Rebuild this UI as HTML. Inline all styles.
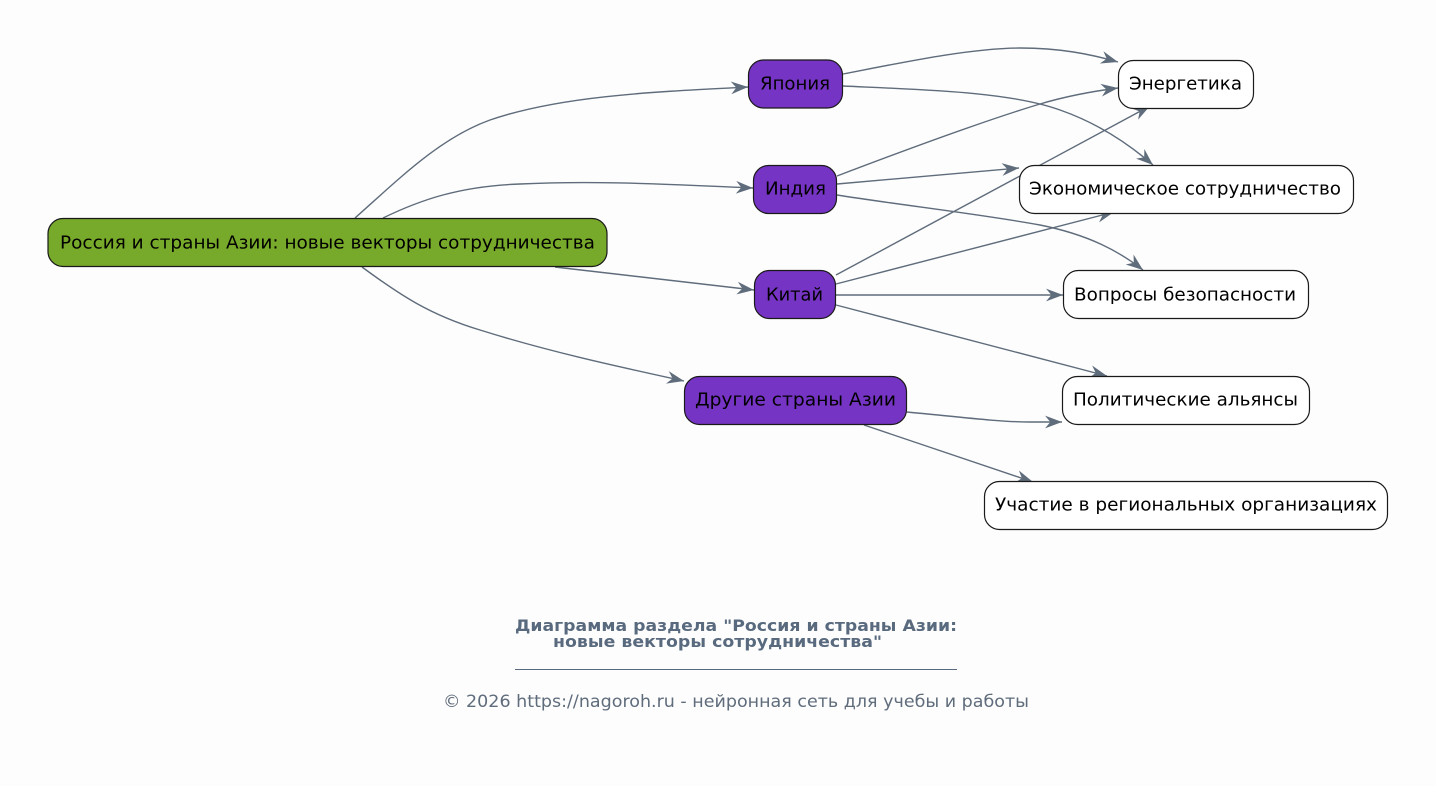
<!DOCTYPE html>
<html><head><meta charset="utf-8"><style>
html,body{margin:0;padding:0;background:#fdfdfd;}
svg{display:block;}
text{font-family:"DejaVu Sans","Liberation Sans",sans-serif;}
</style></head><body>
<svg width="1436" height="786" viewBox="0 0 1436 786" xmlns="http://www.w3.org/2000/svg">
<defs>
<marker id="a" viewBox="0 0 16 12" refX="16" refY="6" markerWidth="17" markerHeight="13" markerUnits="userSpaceOnUse" orient="auto">
<path d="M0,0 L16,6 L0,12 L5,6 Z" fill="#5f6c7b"/>
</marker>
</defs>
<rect width="1436" height="786" fill="#fdfdfd"/>
<g fill="none" stroke="#5f6c7b" stroke-width="1.4" marker-end="url(#a)">
<path d="M355,218 C400,178 440,138 490,120 C560,96 650,92 748,87"/>
<path d="M383,218 C420,200 460,186 520,184 C600,180 680,185 753,188"/>
<path d="M555,267 L754,290"/>
<path d="M362,267 C400,295 430,315 480,330 C550,352 620,367 684,381"/>
<path d="M843,74 C900,63 970,48 1020,48 C1060,48 1090,54 1118,62"/>
<path d="M843,86 C930,90 1010,92 1060,110 C1100,124 1130,145 1153,165"/>
<path d="M837,176 C900,152 980,122 1040,104 C1070,95 1095,91 1118,88"/>
<path d="M837,184 L1019,168"/>
<path d="M837,195 C900,205 980,214 1040,225 C1090,235 1120,252 1143,270"/>
<path d="M836,275 L1150,106"/>
<path d="M836,284 L1114,212"/>
<path d="M836,295 L1063,295"/>
<path d="M836,305 L1107,376"/>
<path d="M907,412 C960,417 1000,422 1030,422 L1062,422"/>
<path d="M864,425 L1033,482"/>
</g>
<g stroke="#1a1a1a" stroke-width="1.2">
<rect x="48" y="218.5" width="559" height="48" rx="15" fill="#77a92a"/>
<rect x="748.5" y="60" width="94" height="48" rx="15" fill="#7634c4"/>
<rect x="753.5" y="165.5" width="83" height="48" rx="15" fill="#7634c4"/>
<rect x="754.5" y="270.5" width="81" height="48" rx="15" fill="#7634c4"/>
<rect x="684.5" y="376.5" width="222" height="48" rx="15" fill="#7634c4"/>
<rect x="1118.5" y="60.5" width="135" height="48" rx="15" fill="#ffffff"/>
<rect x="1019.5" y="165.5" width="334" height="48" rx="15" fill="#ffffff"/>
<rect x="1063.5" y="270.5" width="245" height="48" rx="15" fill="#ffffff"/>
<rect x="1062.5" y="376.5" width="247" height="48" rx="15" fill="#ffffff"/>
<rect x="984.5" y="481.5" width="403" height="48" rx="15" fill="#ffffff"/>
</g>
<g fill="#000" font-size="17.5">
<text x="60" y="248.5" textLength="535" lengthAdjust="spacingAndGlyphs">Россия и страны Азии: новые векторы сотрудничества</text>
<text x="760" y="89.5" textLength="70" lengthAdjust="spacingAndGlyphs">Япония</text>
<text x="765" y="194.5" textLength="61" lengthAdjust="spacingAndGlyphs">Индия</text>
<text x="766" y="300.5" textLength="57" lengthAdjust="spacingAndGlyphs">Китай</text>
<text x="695" y="405.5" textLength="201" lengthAdjust="spacingAndGlyphs">Другие страны Азии</text>
<text x="1129" y="89.5" textLength="113" lengthAdjust="spacingAndGlyphs">Энергетика</text>
<text x="1029" y="194.5" textLength="312" lengthAdjust="spacingAndGlyphs">Экономическое сотрудничество</text>
<text x="1074" y="300.5" textLength="222" lengthAdjust="spacingAndGlyphs">Вопросы безопасности</text>
<text x="1073" y="405.5" textLength="225" lengthAdjust="spacingAndGlyphs">Политические альянсы</text>
<text x="995" y="510.5" textLength="382" lengthAdjust="spacingAndGlyphs">Участие в региональных организациях</text>
</g>
<g fill="#596a7e" font-weight="bold" font-size="16">
<text x="515" y="631" textLength="442" lengthAdjust="spacingAndGlyphs">Диаграмма раздела "Россия и страны Азии:</text>
<text x="553" y="647" textLength="329" lengthAdjust="spacingAndGlyphs">новые векторы сотрудничества"</text>
</g>
<line x1="515" y1="669.5" x2="957" y2="669.5" stroke="#596a7e" stroke-width="1"/>
<text x="443" y="707" font-size="16.5" fill="#5f6c7b" textLength="586" lengthAdjust="spacingAndGlyphs">© 2026 https://nagoroh.ru - нейронная сеть для учебы и работы</text>
</svg>
</body></html>
